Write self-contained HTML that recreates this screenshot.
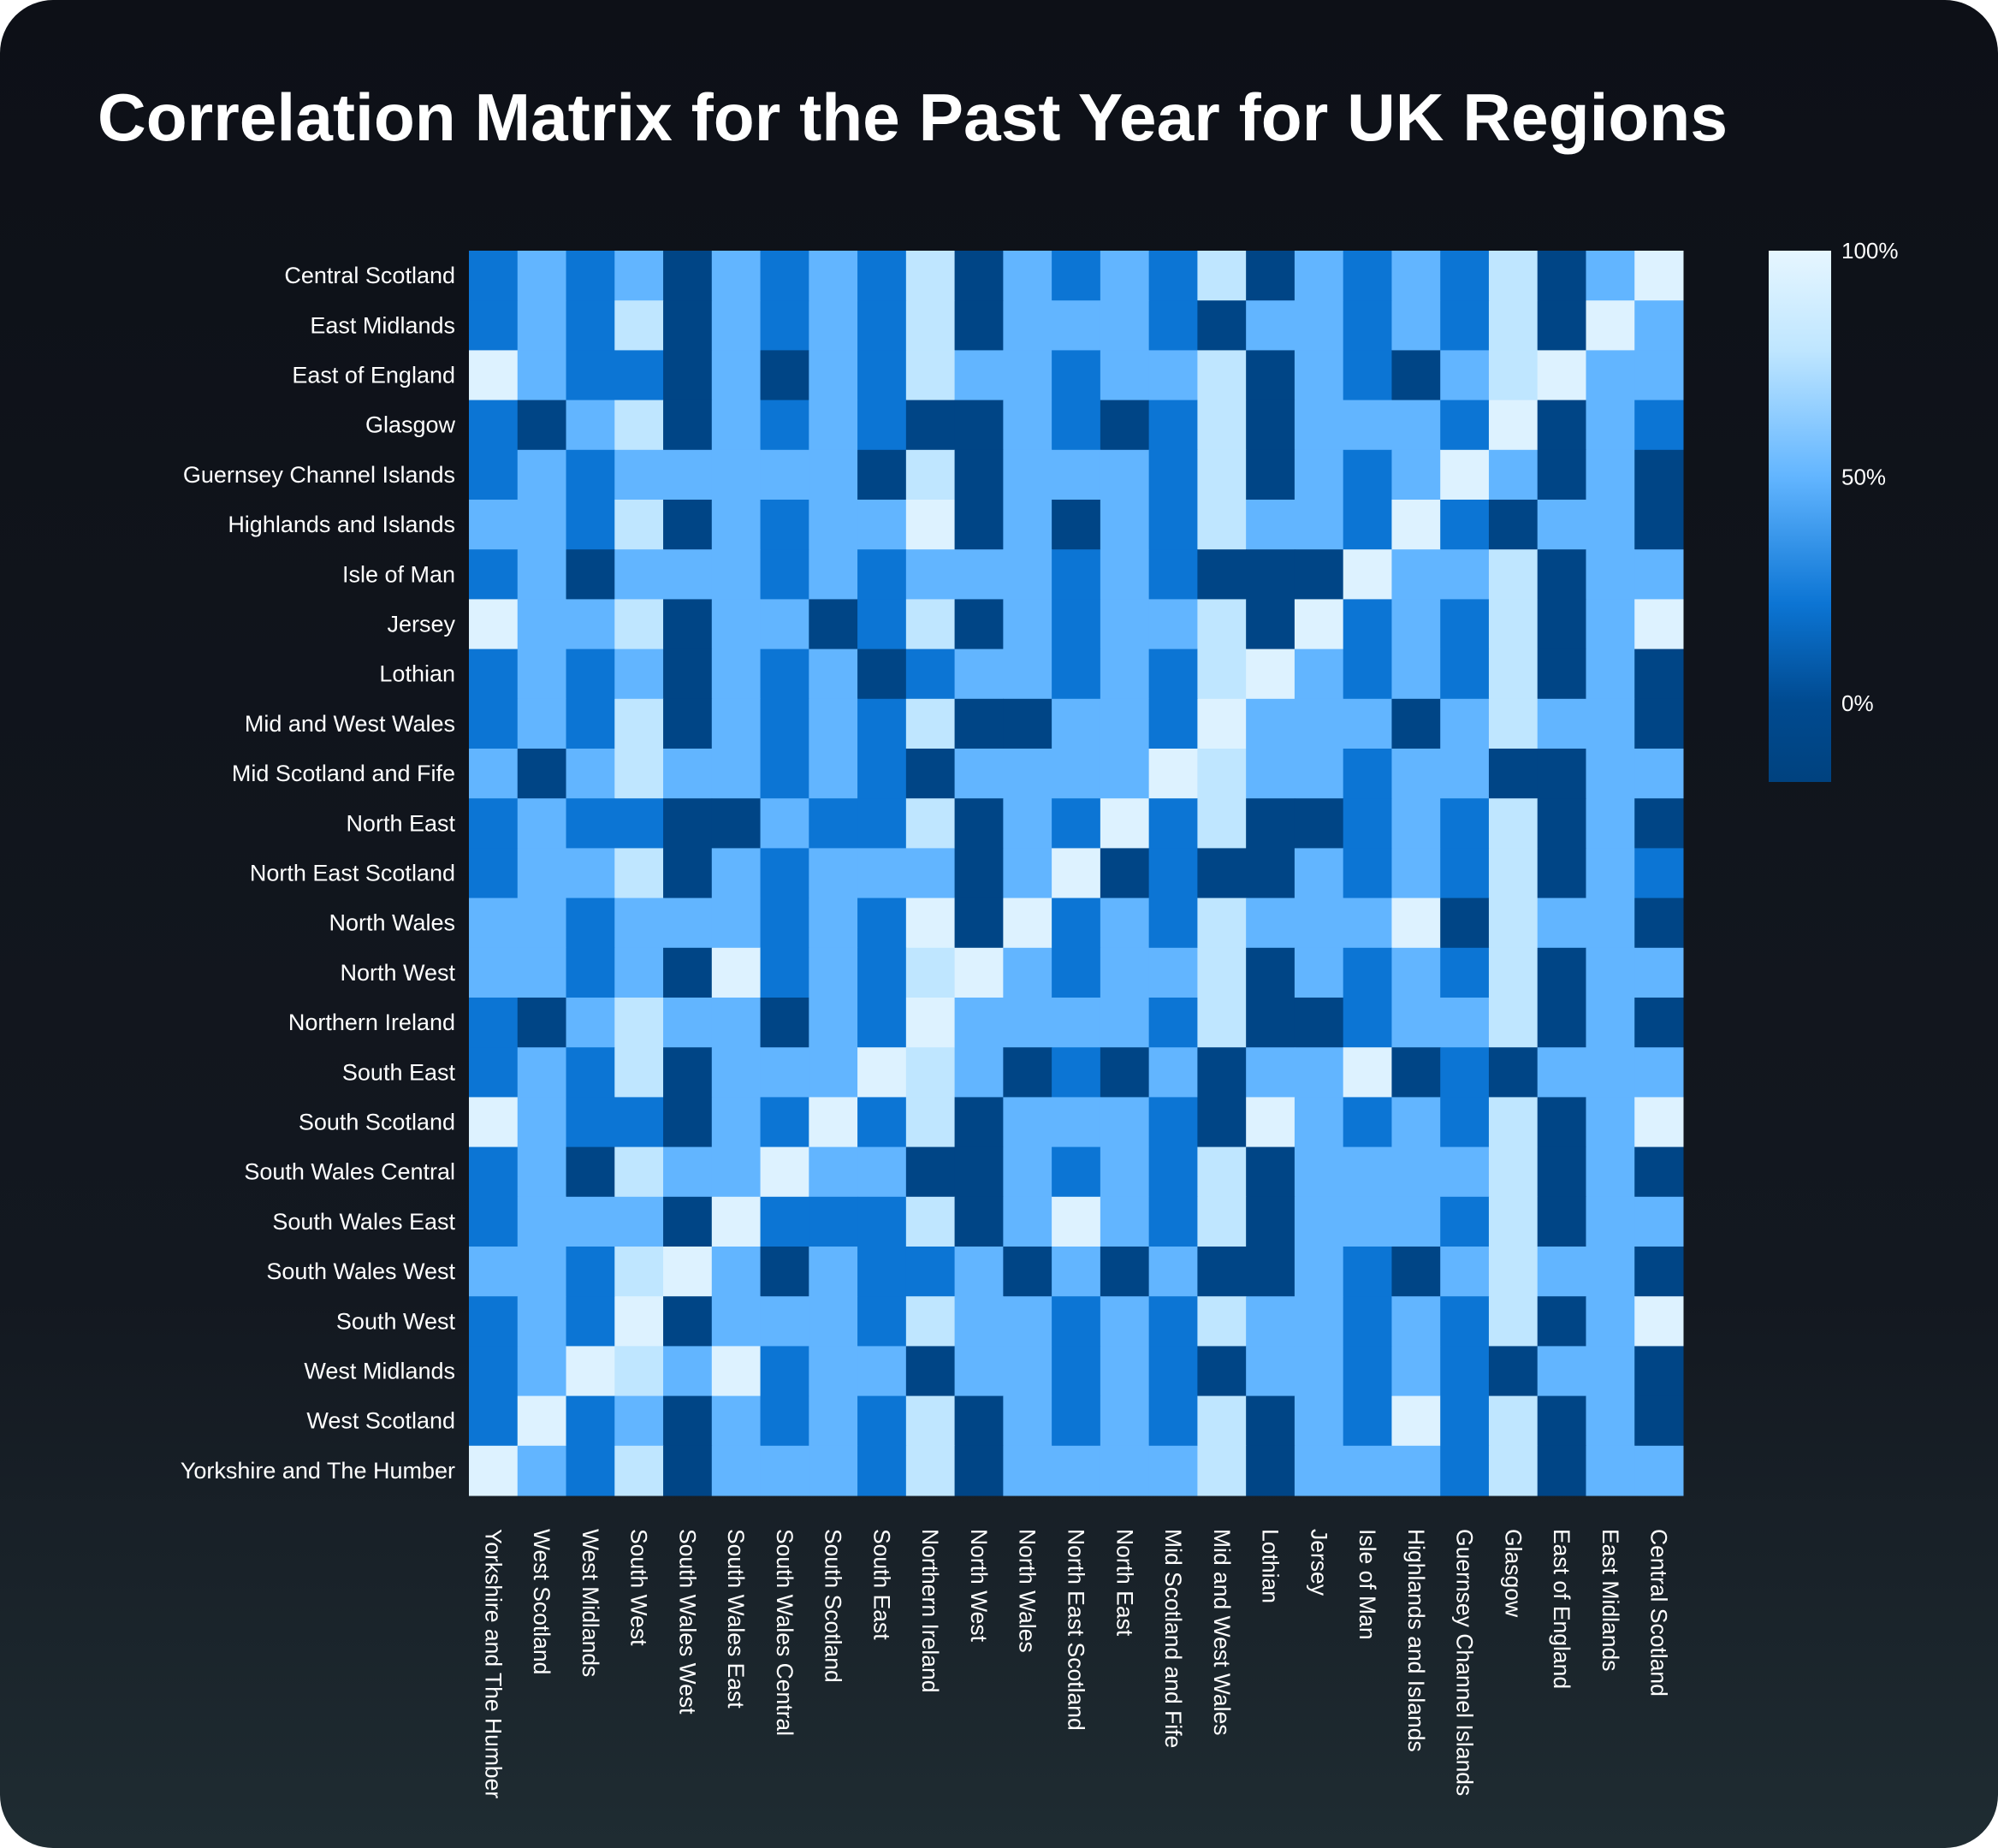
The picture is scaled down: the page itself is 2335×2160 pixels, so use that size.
<!DOCTYPE html>
<html><head><meta charset="utf-8"><style>
html,body{margin:0;padding:0;background:#fff;width:2335px;height:2160px;overflow:hidden}
svg{display:block;font-family:"Liberation Sans",sans-serif}
</style></head><body>
<svg id="chart" width="2335" height="2160" viewBox="0 0 2335 2160">
<defs>
<linearGradient id="bg" x1="0" y1="0" x2="0" y2="1"><stop offset="0" stop-color="#0d1017"/><stop offset="0.7" stop-color="#131820"/><stop offset="1" stop-color="#1f2c32"/></linearGradient>
<linearGradient id="cb" x1="0" y1="1" x2="0" y2="0">
<stop offset="0" stop-color="#00427f"/><stop offset="0.148" stop-color="#004a90"/><stop offset="0.336" stop-color="#0c75d4"/><stop offset="0.574" stop-color="#62b5ff"/><stop offset="0.813" stop-color="#bfe6ff"/><stop offset="1" stop-color="#e6f6ff"/>
</linearGradient>
</defs>
<rect x="0" y="0" width="2335" height="2160" rx="62" fill="url(#bg)"/>
<text x="114" y="164" font-size="78" font-weight="bold" fill="#ffffff" textLength="1905" lengthAdjust="spacingAndGlyphs">Correlation Matrix for the Past Year for UK Regions</text>
<g id="cells"></g><g id="ylabels"></g><g id="xlabels"></g>
<rect x="2067" y="293" width="73" height="621" fill="url(#cb)"/>
<g id="cbticks"></g>
</svg>
<script>
const rowLabels = ["Central Scotland","East Midlands","East of England","Glasgow","Guernsey Channel Islands","Highlands and Islands","Isle of Man","Jersey","Lothian","Mid and West Wales","Mid Scotland and Fife","North East","North East Scotland","North Wales","North West","Northern Ireland","South East","South Scotland","South Wales Central","South Wales East","South Wales West","South West","West Midlands","West Scotland","Yorkshire and The Humber"];
const colLabels = ["Yorkshire and The Humber","West Scotland","West Midlands","South West","South Wales West","South Wales East","South Wales Central","South Scotland","South East","Northern Ireland","North West","North Wales","North East Scotland","North East","Mid Scotland and Fife","Mid and West Wales","Lothian","Jersey","Isle of Man","Highlands and Islands","Guernsey Channel Islands","Glasgow","East of England","East Midlands","Central Scotland"];
const D=-10, M=22, L=50, P=78, W=95;
const values = [
[M,L,M,L,D,L,M,L,M,P,D,L,M,L,M,P,D,L,M,L,M,P,D,L,W],
[M,L,M,P,D,L,M,L,M,P,D,L,L,L,M,D,L,L,M,L,M,P,D,W,L],
[W,L,M,M,D,L,D,L,M,P,L,L,M,L,L,P,D,L,M,D,L,P,W,L,L],
[M,D,L,P,D,L,M,L,M,D,D,L,M,D,M,P,D,L,L,L,M,W,D,L,M],
[M,L,M,L,L,L,L,L,D,P,D,L,L,L,M,P,D,L,M,L,W,L,D,L,D],
[L,L,M,P,D,L,M,L,L,W,D,L,D,L,M,P,L,L,M,W,M,D,L,L,D],
[M,L,D,L,L,L,M,L,M,L,L,L,M,L,M,D,D,D,W,L,L,P,D,L,L],
[W,L,L,P,D,L,L,D,M,P,D,L,M,L,L,P,D,W,M,L,M,P,D,L,W],
[M,L,M,L,D,L,M,L,D,M,L,L,M,L,M,P,W,L,M,L,M,P,D,L,D],
[M,L,M,P,D,L,M,L,M,P,D,D,L,L,M,W,L,L,L,D,L,P,L,L,D],
[L,D,L,P,L,L,M,L,M,D,L,L,L,L,W,P,L,L,M,L,L,D,D,L,L],
[M,L,M,M,D,D,L,M,M,P,D,L,M,W,M,P,D,D,M,L,M,P,D,L,D],
[M,L,L,P,D,L,M,L,L,L,D,L,W,D,M,D,D,L,M,L,M,P,D,L,M],
[L,L,M,L,L,L,M,L,M,W,D,W,M,L,M,P,L,L,L,W,D,P,L,L,D],
[L,L,M,L,D,W,M,L,M,P,W,L,M,L,L,P,D,L,M,L,M,P,D,L,L],
[M,D,L,P,L,L,D,L,M,W,L,L,L,L,M,P,D,D,M,L,L,P,D,L,D],
[M,L,M,P,D,L,L,L,W,P,L,D,M,D,L,D,L,L,W,D,M,D,L,L,L],
[W,L,M,M,D,L,M,W,M,P,D,L,L,L,M,D,W,L,M,L,M,P,D,L,W],
[M,L,D,P,L,L,W,L,L,D,D,L,M,L,M,P,D,L,L,L,L,P,D,L,D],
[M,L,L,L,D,W,M,M,M,P,D,L,W,L,M,P,D,L,L,L,M,P,D,L,L],
[L,L,M,P,W,L,D,L,M,M,L,D,L,D,L,D,D,L,M,D,L,P,L,L,D],
[M,L,M,W,D,L,L,L,M,P,L,L,M,L,M,P,L,L,M,L,M,P,D,L,W],
[M,L,W,P,L,W,M,L,L,D,L,L,M,L,M,D,L,L,M,L,M,D,L,L,D],
[M,W,M,L,D,L,M,L,M,P,D,L,M,L,M,P,D,L,M,W,M,P,D,L,D],
[W,L,M,P,D,L,L,L,M,P,D,L,L,L,L,P,D,L,L,L,M,P,D,L,L]
];
const cbTicks = [100,50,0];
const cbTickLabels = ["100%","50%","0%"];

const NS="http://www.w3.org/2000/svg";
const gx0=548, gx1=1967, gy0=293, gy1=1748;
const cw=(gx1-gx0)/colLabels.length, ch=(gy1-gy0)/rowLabels.length;
const xPos=i=>gx0+i*cw, yPos=j=>gy0+j*ch;
const vmin=-17.4, vmax=100, cbTop=293, cbBot=914;
const cbY=v=>cbBot-(v-vmin)/(vmax-vmin)*(cbBot-cbTop);
const stops=[[-17.4,[0,66,127]],[0,[0,74,144]],[22,[12,117,212]],[50,[98,181,255]],[78,[191,230,255]],[100,[230,246,255]]];
function color(v){
  if(v<=stops[0][0])return `rgb(${stops[0][1]})`;
  for(let k=1;k<stops.length;k++){if(v<=stops[k][0]){const a=stops[k-1],b=stops[k];const t=(v-a[0])/(b[0]-a[0]);const c=a[1].map((x,i)=>Math.round(x+(b[1][i]-x)*t));return `rgb(${c})`;}}
  return `rgb(${stops[stops.length-1][1]})`;
}
const cells=document.getElementById('cells');
values.forEach((row,j)=>row.forEach((v,i)=>{
  const r=document.createElementNS(NS,'rect');
  r.setAttribute('x',xPos(i));r.setAttribute('y',yPos(j));
  r.setAttribute('width',cw+0.5);r.setAttribute('height',ch+0.5);
  r.setAttribute('fill',color(v));
  
  
  cells.appendChild(r);
}));
const yl=document.getElementById('ylabels');
rowLabels.forEach((s,j)=>{
  const t=document.createElementNS(NS,'text');
  t.setAttribute('x',532);t.setAttribute('y',yPos(j)+ch/2+9);
  t.setAttribute('text-anchor','end');t.setAttribute('font-size','27');t.setAttribute('fill','#ffffff');
  t.textContent=s;
  
  
  yl.appendChild(t);
});
const xl=document.getElementById('xlabels');
colLabels.forEach((s,i)=>{
  const t=document.createElementNS(NS,'text');
  const cx=xPos(i)+cw/2-9, y=1787;
  t.setAttribute('x',cx);t.setAttribute('y',y);
  t.setAttribute('transform',`rotate(90 ${cx} ${y})`);
  t.setAttribute('font-size','26.5');t.setAttribute('fill','#ffffff');
  t.textContent=s;
  
  
  xl.appendChild(t);
});
const cbt=document.getElementById('cbticks');
cbTicks.forEach((v,k)=>{
  const t=document.createElementNS(NS,'text');
  t.setAttribute('x',2152);t.setAttribute('y',cbY(v)+9);
  t.setAttribute('font-size','26');t.setAttribute('fill','#ffffff');
  t.textContent=cbTickLabels[k];
  
  
  cbt.appendChild(t);
});
</script>
</body></html>
